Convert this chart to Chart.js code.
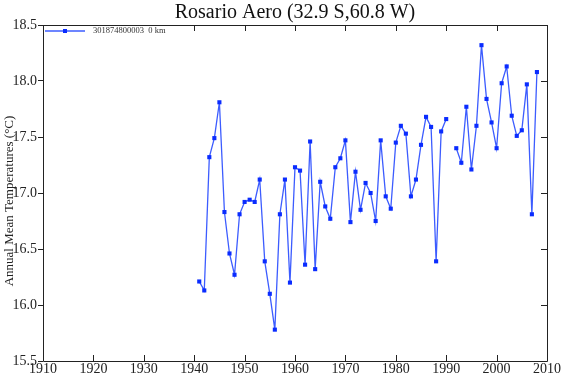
<!DOCTYPE html>
<html>
<head>
<meta charset="utf-8">
<script src="https://cdn.jsdelivr.net/npm/chart.js@4"></script>
<style>
html,body{margin:0;padding:0;background:#fff;}
#wrap{width:561px;height:375px;position:relative;}
</style>
</head>
<body>
<div id="wrap"><canvas id="c" width="561" height="375"></canvas></div>
<script>
const titleText = "Rosario Aero (32.9 S,60.8 W)";
const yAxisLabel = "Annual Mean Temperatures (\u00B0C)";
const seriesName = "301874800003  0 km";
const years = [1941,1942,1943,1944,1945,1946,1947,1948,1949,1950,
  1951,1952,1953,1954,1955,1956,1957,1958,1959,1960,
  1961,1962,1963,1964,1965,1966,1967,1968,1969,1970,
  1971,1972,1973,1974,1975,1976,1977,1978,1979,1980,
  1981,1982,1983,1984,1985,1986,1987,1988,1989,1990,
  1991,1992,1993,1994,1995,1996,1997,1998,1999,2000,
  2001,2002,2003,2004,2005,2006,2007,2008];
const temps = [16.21,16.13,17.32,17.49,17.81,16.83,16.46,16.27,16.81,16.92,
  16.94,16.92,17.12,16.39,16.10,15.78,16.81,17.12,16.20,17.23,
  17.20,16.36,17.46,16.32,17.10,16.88,16.77,17.23,17.31,17.47,
  16.74,17.19,16.85,17.09,17.00,16.75,17.47,16.97,16.86,17.45,
  17.60,17.53,16.97,17.12,17.43,17.68,17.59,16.39,17.55,17.66,
  null,17.40,17.27,17.77,17.21,17.60,18.32,17.84,17.63,17.40,
  17.98,18.13,17.69,17.51,17.56,17.97,16.81,18.08];
const xTicks = [1910,1920,1930,1940,1950,1960,1970,1980,1990,2000,2010];
const yTicks = [15.5,16.0,16.5,17.0,17.5,18.0,18.5];

const lineColor = '#3c5cff';
const markColor = '#0a2cff';
const serif = '"Liberation Serif", "Times New Roman", serif';

const points = years.map((y,i)=>({x:y, y:temps[i]}));

const decor = {
  id:'decor',
  afterDraw(chart){
    const {ctx, chartArea:a, scales} = chart;
    const xs = scales.x, ys = scales.y;
    ctx.save();
    ctx.strokeStyle = '#222';
    ctx.lineWidth = 1;
    ctx.beginPath();
    xTicks.forEach(v=>{
      const px = Math.round(xs.getPixelForValue(v))+0.5;
      ctx.moveTo(px, a.bottom); ctx.lineTo(px, a.bottom-6);
      ctx.moveTo(px, a.top); ctx.lineTo(px, a.top+6);
    });
    yTicks.forEach(v=>{
      const py = Math.round(ys.getPixelForValue(v))+0.5;
      ctx.moveTo(a.right, py); ctx.lineTo(a.right-6, py);
    });
    ctx.stroke();
    // legend background box
    ctx.fillStyle = '#fff';
    ctx.fillRect(a.left+1, a.top+1, 135, 12);
    ctx.beginPath();
    ctx.rect(Math.round(a.left)+0.5, Math.round(a.top)+0.5, Math.round(a.right-a.left), Math.round(a.bottom-a.top));
    ctx.stroke();
    // title
    ctx.fillStyle = '#111';
    ctx.font = '20px ' + serif;
    ctx.textAlign = 'center';
    ctx.textBaseline = 'alphabetic';
    ctx.fillText(titleText, (a.left+a.right)/2, 18);
    // y axis label
    ctx.save();
    ctx.translate(10, 201);
    ctx.rotate(-Math.PI/2);
    ctx.font = '13px ' + serif;
    ctx.fillStyle = '#222';
    ctx.textAlign = 'center';
    ctx.textBaseline = 'middle';
    ctx.fillText(yAxisLabel, 0, 0);
    ctx.restore();
    // legend
    const ly = a.top + 6;
    ctx.strokeStyle = lineColor;
    ctx.lineWidth = 1.3;
    ctx.beginPath(); ctx.moveTo(a.left+2, ly); ctx.lineTo(a.left+42, ly); ctx.stroke();
    ctx.fillStyle = markColor;
    ctx.fillRect(a.left+22-2, ly-2, 4, 4);
    ctx.fillStyle = '#333';
    ctx.font = '8.5px ' + serif;
    ctx.textAlign = 'left';
    ctx.textBaseline = 'middle';
    ctx.fillText(seriesName, a.left+50, ly);
    ctx.restore();
  }
};

new Chart(document.getElementById('c'), {
  type:'line',
  data:{ datasets:[{
    label: seriesName,
    data: points,
    borderColor: lineColor,
    borderWidth: 1.3,
    backgroundColor: markColor,
    pointStyle:'rect',
    pointRadius: 2.9,
    pointBorderWidth: 0,
    pointBackgroundColor: markColor,
    spanGaps:false,
    tension:0
  }]},
  options:{
    responsive:false,
    animation:false,
    layout:{padding:{top:25,right:14,left:0,bottom:0}},
    plugins:{legend:{display:false}, title:{display:false}, tooltip:{enabled:false}},
    scales:{
      x:{
        type:'linear', min:1910, max:2010,
        afterBuildTicks(s){ s.ticks = xTicks.map(v=>({value:v})); },
        afterFit(s){ s.height = 14; },
        grid:{display:false, drawTicks:false},
        border:{display:false},
        ticks:{font:{family:serif,size:14}, color:'#222', padding:0, maxRotation:0, autoSkip:false,
          callback:v=>String(v)}
      },
      y:{
        min:15.5, max:18.5,
        afterBuildTicks(s){ s.ticks = yTicks.map(v=>({value:v})); },
        afterFit(s){ s.width = 43; },
        grid:{display:true, drawOnChartArea:false, drawTicks:true, tickLength:5, color:'#222'},
        border:{display:false},
        ticks:{font:{family:serif,size:14}, color:'#222', padding:1,
          callback:v=>v.toFixed(1)},
        title:{display:false}
      }
    }
  },
  plugins:[decor]
});
</script>
</body>
</html>
